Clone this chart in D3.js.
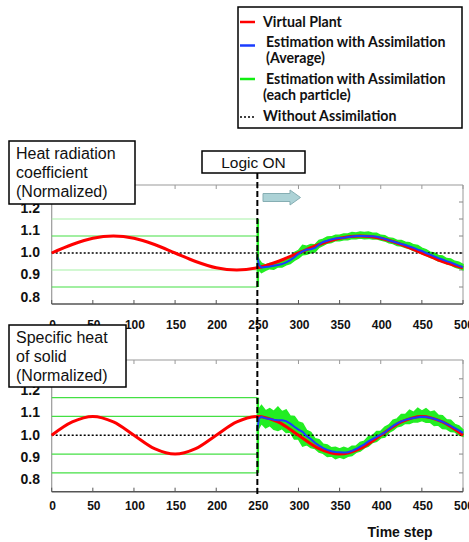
<!DOCTYPE html>
<html>
<head>
<meta charset="utf-8">
<script src="https://cdn.jsdelivr.net/npm/d3@7"></script>
<style>
  body { margin: 0; background: #fff; }
  svg { display: block; }
</style>
</head>
<body>
<div id="chart"></div>
<script>
// ---- data ----
var plantSteps = [0, 25, 50, 75, 100, 125, 150, 175, 200, 225, 250, 275, 300, 325, 350, 375, 400, 425, 450, 475, 500];
var heatPlant = [1.000, 1.050, 1.087, 1.100, 1.087, 1.050, 1.000, 0.950, 0.913, 0.900, 0.913, 0.950, 1.000, 1.050, 1.087, 1.100, 1.087, 1.050, 1.000, 0.950, 0.913];
var specPlant = [1.000, 1.071, 1.100, 1.071, 1.000, 0.929, 0.900, 0.929, 1.000, 1.071, 1.100, 1.071, 1.000, 0.929, 0.900, 0.929, 1.000, 1.071, 1.100, 1.071, 1.000];

var estSteps = [250, 252, 255, 260, 265, 270, 275, 280, 285, 290, 295, 300,
  305, 310, 315, 320, 325, 330, 335, 340, 345, 350,
  355, 360, 365, 370, 375, 380, 385, 390, 395, 400,
  405, 410, 415, 420, 425, 430, 435, 440, 445, 450,
  455, 460, 465, 470, 475, 480, 485, 490, 495, 500];

var heatAvg = [0.975, 0.930, 0.915, 0.918, 0.920, 0.925, 0.930, 0.935, 0.945, 0.958, 0.975, 0.995,
  1.010, 1.020, 1.022, 1.030, 1.050, 1.065, 1.072, 1.080, 1.085, 1.088,
  1.090, 1.094, 1.097, 1.100, 1.100, 1.100, 1.098, 1.098, 1.096, 1.090,
  1.083, 1.075, 1.068, 1.060, 1.053, 1.047, 1.038, 1.030, 1.020, 1.012,
  1.000, 0.990, 0.980, 0.970, 0.962, 0.952, 0.945, 0.935, 0.924, 0.918];
var heatUp = [0.010, 0.030, 0.025, 0.012, 0.018, 0.012, 0.020, 0.014, 0.020, 0.015, 0.028, 0.020,
  0.035, 0.020, 0.028, 0.018, 0.024, 0.016, 0.022, 0.015, 0.020, 0.016,
  0.022, 0.018, 0.024, 0.018, 0.024, 0.020, 0.025, 0.018, 0.020, 0.014,
  0.018, 0.013, 0.017, 0.014, 0.020, 0.016, 0.022, 0.018, 0.024, 0.016,
  0.020, 0.015, 0.020, 0.016, 0.020, 0.015, 0.020, 0.016, 0.022, 0.015];
var heatLo = [0.010, 0.030, 0.030, 0.020, 0.012, 0.020, 0.012, 0.018, 0.014, 0.020, 0.018, 0.025,
  0.020, 0.028, 0.020, 0.025, 0.016, 0.020, 0.014, 0.018, 0.012, 0.016,
  0.012, 0.016, 0.012, 0.016, 0.012, 0.016, 0.012, 0.015, 0.012, 0.014,
  0.012, 0.015, 0.012, 0.016, 0.012, 0.015, 0.012, 0.016, 0.012, 0.016,
  0.012, 0.016, 0.013, 0.017, 0.012, 0.016, 0.013, 0.017, 0.014, 0.016];

var specAvg = [1.030, 1.090, 1.098, 1.090, 1.087, 1.082, 1.080, 1.080, 1.075, 1.062, 1.045, 1.030,
  1.018, 0.995, 0.980, 0.960, 0.945, 0.932, 0.922, 0.915, 0.911, 0.910,
  0.909, 0.910, 0.917, 0.927, 0.940, 0.952, 0.967, 0.980, 0.992, 1.003,
  1.015, 1.033, 1.050, 1.063, 1.074, 1.082, 1.088, 1.092, 1.096, 1.098,
  1.097, 1.093, 1.088, 1.080, 1.072, 1.060, 1.050, 1.038, 1.026, 1.013];
var specUp = [0.010, 0.050, 0.060, 0.040, 0.055, 0.045, 0.070, 0.045, 0.060, 0.040, 0.055, 0.040,
  0.045, 0.030, 0.035, 0.022, 0.032, 0.020, 0.026, 0.018, 0.025, 0.017,
  0.027, 0.018, 0.024, 0.015, 0.022, 0.016, 0.025, 0.017, 0.028, 0.018,
  0.028, 0.022, 0.030, 0.024, 0.036, 0.028, 0.045, 0.030, 0.048, 0.030,
  0.044, 0.030, 0.040, 0.026, 0.032, 0.022, 0.030, 0.020, 0.024, 0.016];
var specLo = [0.010, 0.050, 0.035, 0.050, 0.035, 0.050, 0.055, 0.045, 0.060, 0.045, 0.065, 0.050,
  0.075, 0.045, 0.045, 0.030, 0.035, 0.028, 0.035, 0.025, 0.036, 0.026,
  0.032, 0.022, 0.025, 0.018, 0.024, 0.019, 0.025, 0.018, 0.024, 0.017,
  0.024, 0.017, 0.023, 0.018, 0.024, 0.018, 0.026, 0.020, 0.026, 0.020,
  0.028, 0.024, 0.036, 0.026, 0.036, 0.026, 0.030, 0.020, 0.024, 0.018];

var initLevels = [0.8, 0.9, 1.1, 1.2];     // particle start values before assimilation
var xTicks = [0, 50, 100, 150, 200, 250, 300, 350, 400, 450, 500];
var yTicks = [0.8, 0.9, 1.0, 1.1, 1.2, 1.3];
var yLabels = [0.8, 0.9, 1.0, 1.1, 1.2];
var logicOnStep = 250;

var legendItems = [
  {lines: ["Virtual Plant"], color: "#ff0000", dash: null},
  {lines: ["Estimation with Assimilation", "(Average)"], color: "#1a3cff", dash: null},
  {lines: ["Estimation with Assimilation", "(each particle)"], color: "#11ee11", dash: null},
  {lines: ["Without Assimilation"], color: "#000", dash: "2,2"}
];

// ---- drawing ----
var width = 469, height = 542;
var svg = d3.select("#chart").append("svg")
    .attr("width", width)
    .attr("height", height);

var x = d3.scaleLinear().domain([0, 500]).range([51.7, 463]);

var panels = [
  {title: ["Heat radiation", "coefficient", "(Normalized)"], plant: heatPlant, avg: heatAvg, up: heatUp, lo: heatLo,
   top: 185, bottom: 304, labelRange: [296.5, 207.5], tickY: 329,
   box: [9, 141, 126, 63], pale: [0.9, 1.2]},
  {title: ["Specific heat", "of solid", "(Normalized)"], plant: specPlant, avg: specAvg, up: specUp, lo: specLo,
   top: 360, bottom: 491.7, labelRange: [479, 390], tickY: 510,
   box: [9, 325, 117, 62], pale: []}
];

panels.forEach(function (p) {
    var y = d3.scaleLinear().domain([0.7, 1.4]).range([p.bottom, p.top]);
    var yLab = d3.scaleLinear().domain([0.8, 1.2]).range(p.labelRange);
    var g = svg.append("g");

    // frame
    g.append("line").attr("x1", x(0)).attr("x2", x(500)).attr("y1", p.top).attr("y2", p.top)
        .attr("stroke", "#999").attr("stroke-width", 1);
    g.append("line").attr("x1", x(500)).attr("x2", x(500)).attr("y1", p.top).attr("y2", p.bottom)
        .attr("stroke", "#999").attr("stroke-width", 1);
    g.append("line").attr("x1", x(0)).attr("x2", x(0)).attr("y1", p.top).attr("y2", p.bottom)
        .attr("stroke", "#999").attr("stroke-width", 1.2);
    g.append("line").attr("x1", x(0)).attr("x2", x(500)).attr("y1", p.bottom).attr("y2", p.bottom)
        .attr("stroke", "#555").attr("stroke-width", 1.5);

    // inward ticks
    g.selectAll(".tt").data(xTicks).enter().append("line")
        .attr("x1", function (d) { return x(d); }).attr("x2", function (d) { return x(d); })
        .attr("y1", p.top).attr("y2", p.top + 4)
        .attr("stroke", "#999");
    g.selectAll(".bt").data(xTicks).enter().append("line")
        .attr("x1", function (d) { return x(d); }).attr("x2", function (d) { return x(d); })
        .attr("y1", p.bottom).attr("y2", p.bottom - 4)
        .attr("stroke", "#555");
    g.selectAll(".rt").data(yTicks).enter().append("line")
        .attr("x1", x(500)).attr("x2", x(500) - 4)
        .attr("y1", function (d) { return y(d); }).attr("y2", function (d) { return y(d); })
        .attr("stroke", "#888");

    // x tick labels
    g.selectAll(".xl").data(xTicks).enter().append("text")
        .attr("x", function (d) { return x(d) + 1; })
        .attr("y", p.tickY)
        .attr("text-anchor", "middle")
        .attr("font-family", "Liberation Sans, Arial, sans-serif")
        .attr("font-weight", "bold")
        .attr("font-size", 12)
        .attr("fill", "#111")
        .text(function (d) { return d; });

    // y tick labels
    g.selectAll(".yl").data(yLabels).enter().append("text")
        .attr("x", 40)
        .attr("y", function (d) { return yLab(d); })
        .attr("dy", "0.36em")
        .attr("text-anchor", "end")
        .attr("font-family", "Liberation Sans, Arial, sans-serif")
        .attr("font-weight", "bold")
        .attr("font-size", 14)
        .attr("fill", "#111")
        .text(function (d) { return d.toFixed(1); });

    // particle start values (before assimilation)
    g.selectAll(".init").data(initLevels).enter().append("line")
        .attr("x1", x(0)).attr("x2", x(logicOnStep))
        .attr("y1", function (d) { return y(d); }).attr("y2", function (d) { return y(d); })
        .attr("stroke", function (d) { return p.pale.indexOf(d) >= 0 ? "#a6f2a6" : "#44e044"; })
        .attr("stroke-width", 1.2);
    g.append("line")
        .attr("x1", x(logicOnStep) + 0.5).attr("x2", x(logicOnStep) + 0.5)
        .attr("y1", y(d3.min(initLevels))).attr("y2", y(d3.max(initLevels)))
        .attr("stroke", "#22ee22").attr("stroke-width", 2.5);

    // particle band
    var band = d3.area()
        .x(function (d, i) { return x(estSteps[i]); })
        .y0(function (d, i) { return y(d - p.lo[i]); })
        .y1(function (d, i) { return y(d + p.up[i]); });
    g.append("path").datum(p.avg)
        .attr("d", band)
        .attr("fill", "#22ee22")
        .attr("stroke", "#22ee22")
        .attr("stroke-width", 1.5)
        .attr("stroke-linejoin", "miter");

    // without assimilation
    g.append("line").attr("x1", x(0)).attr("x2", x(500)).attr("y1", y(1)).attr("y2", y(1))
        .attr("stroke", "#000").attr("stroke-width", 1.3).attr("stroke-dasharray", "2,2");

    // virtual plant
    var plantLine = d3.line()
        .x(function (d, i) { return x(plantSteps[i]); })
        .y(function (d) { return y(d); })
        .curve(d3.curveCatmullRom);
    g.append("path").datum(p.plant)
        .attr("d", plantLine)
        .attr("fill", "none")
        .attr("stroke", "#ff0000")
        .attr("stroke-width", 3);

    // estimation average
    var avgLine = d3.line()
        .x(function (d, i) { return x(estSteps[i]); })
        .y(function (d) { return y(d); });
    g.append("path").datum(p.avg)
        .attr("d", avgLine)
        .attr("fill", "none")
        .attr("stroke", "#1a3cff")
        .attr("stroke-width", 2);

    // title box
    g.append("rect")
        .attr("x", p.box[0]).attr("y", p.box[1])
        .attr("width", p.box[2]).attr("height", p.box[3])
        .attr("fill", "#fff").attr("stroke", "#000").attr("stroke-width", 1.5);
    g.selectAll(".tl").data(p.title).enter().append("text")
        .attr("x", p.box[0] + 7)
        .attr("y", function (d, i) { return p.box[1] + 18 + i * 19; })
        .attr("font-family", "Liberation Sans, Arial, sans-serif")
        .attr("font-size", 16)
        .attr("fill", "#111")
        .text(function (d) { return d; });
});

// Logic ON marker
svg.append("line")
    .attr("x1", x(logicOnStep)).attr("x2", x(logicOnStep))
    .attr("y1", 173).attr("y2", 496)
    .attr("stroke", "#000").attr("stroke-width", 2).attr("stroke-dasharray", "6,3");
svg.append("rect")
    .attr("x", 202).attr("y", 151).attr("width", 103).attr("height", 22)
    .attr("fill", "#fff").attr("stroke", "#000").attr("stroke-width", 1.5);
svg.append("text")
    .attr("x", 253.5).attr("y", 167.5)
    .attr("text-anchor", "middle")
    .attr("font-family", "Liberation Sans, Arial, sans-serif")
    .attr("font-size", 15.5)
    .attr("fill", "#111")
    .text("Logic ON");
svg.append("path")
    .attr("d", d3.line()([[263, 193.5], [290, 193.5], [290, 190], [300.5, 197.5], [290, 205], [290, 201.5], [263, 201.5]]) + "Z")
    .attr("fill", "#acd2d6").attr("stroke", "#86aeb3").attr("stroke-width", 1);

// time step label
svg.append("text")
    .attr("x", 400).attr("y", 537)
    .attr("text-anchor", "middle")
    .attr("font-family", "Liberation Sans, Arial, sans-serif")
    .attr("font-weight", "bold")
    .attr("font-size", 14)
    .attr("fill", "#111")
    .text("Time step");

// legend
var leg = svg.append("g");
leg.append("rect")
    .attr("x", 238).attr("y", 7).attr("width", 224).attr("height", 121)
    .attr("fill", "#fff").attr("stroke", "#000").attr("stroke-width", 1.5);
var legRows = [
  {item: 0, y: 22, text: [[263, 26.5]]},
  {item: 1, y: 45.5, text: [[266, 46.5], [266, 62.5]]},
  {item: 2, y: 79, text: [[266, 84], [263, 100]]},
  {item: 3, y: 117, text: [[263, 120.5]]}
];
legRows.forEach(function (r) {
    var it = legendItems[r.item];
    leg.append("line")
        .attr("x1", 240).attr("x2", 255).attr("y1", r.y).attr("y2", r.y)
        .attr("stroke", it.color)
        .attr("stroke-width", it.dash ? 1.6 : 2.5)
        .attr("stroke-dasharray", it.dash);
    it.lines.forEach(function (t, i) {
        leg.append("text")
            .attr("x", r.text[i][0]).attr("y", r.text[i][1])
            .attr("font-family", "Lato, 'Open Sans', sans-serif")
            .attr("font-weight", "bold")
            .attr("font-size", 14.2)
            .attr("fill", "#111")
            .text(t);
    });
});
</script>
</body>
</html>
